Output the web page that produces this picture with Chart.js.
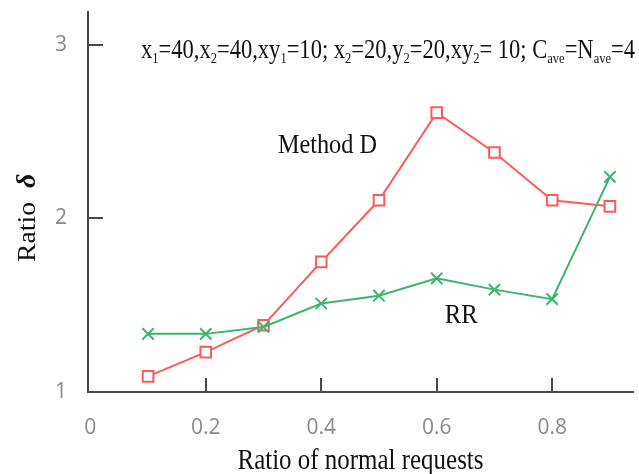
<!DOCTYPE html>
<html>
<head>
<meta charset="utf-8">
<script src="https://cdn.jsdelivr.net/npm/chart.js@4/dist/chart.umd.min.js"></script>
<style>
  html, body { margin: 0; padding: 0; background: #ffffff; }
  #wrap { width: 639px; height: 474px; }
</style>
</head>
<body>
<div id="wrap"><canvas id="chart" width="639" height="474"></canvas></div>
<script>
// Ratio of normal requests (x) and the resulting ratio δ for each method
const normalRatios = [0.1, 0.2, 0.3, 0.4, 0.5, 0.6, 0.7, 0.8, 0.9];
const methodD = [1.09, 1.23, 1.385, 1.75, 2.105, 2.61, 2.38, 2.105, 2.07];
const roundRobin = [1.335, 1.335, 1.375, 1.51, 1.555, 1.655, 1.59, 1.535, 2.24];

// Axis ticks
const xTickValues = [0, 0.2, 0.4, 0.6, 0.8];
const xTickLabels = ['0', '0.2', '0.4', '0.6', '0.8'];
const yTickValues = [1, 2, 3];
const yTickLabels = ['1', '2', '3'];

// Text
const xTitle = 'Ratio of normal requests';
const yTitle = 'Ratio';
const yTitleSymbol = 'δ';
const methodDLabel = 'Method D';
const rrLabel = 'RR';
// experiment settings line: [text, isSubscript]
const settingsLine = [
  ['x', false], ['1', true], ['=40,x', false], ['2', true], ['=40,xy', false], ['1', true],
  ['=10; x', false], ['2', true], ['=20,y', false], ['2', true], ['=20,xy', false], ['2', true],
  ['= 10; C', false], ['ave', true], ['=N', false], ['ave', true], ['=4', false]
];

const AXIS = '#484848';
const RED = '#ff5a5a';
const GREEN = '#3cb46e';
const SERIF = '"Liberation Serif", "DejaVu Serif", serif';

const toPoints = (xs, ys) => xs.map((x, i) => ({ x: x, y: ys[i] }));

// Draw a run of text squeezed horizontally to a given width
function drawFitted(ctx, parts, x, y, width) {
  let natural = 0;
  parts.forEach(p => { ctx.font = p.font; natural += ctx.measureText(p.text).width; });
  const sx = width / natural;
  ctx.save();
  ctx.translate(x, y);
  ctx.scale(sx, 1);
  let cx = 0;
  parts.forEach(p => {
    ctx.font = p.font;
    ctx.fillText(p.text, cx, p.dy || 0);
    cx += ctx.measureText(p.text).width;
  });
  ctx.restore();
}

// Inward-facing tick marks on both axes
const innerTicks = {
  id: 'innerTicks',
  beforeDatasetsDraw(chart) {
    const { ctx, chartArea, scales: { x, y } } = chart;
    ctx.save();
    ctx.strokeStyle = AXIS;
    ctx.lineWidth = 2;
    ctx.beginPath();
    x.ticks.forEach(t => {
      if (t.value === 0) return;
      const px = Math.round(x.getPixelForValue(t.value));
      ctx.moveTo(px, chartArea.bottom);
      ctx.lineTo(px, chartArea.bottom - 14);
    });
    y.ticks.forEach(t => {
      if (t.value === y.min) return;
      const py = Math.round(y.getPixelForValue(t.value));
      ctx.moveTo(chartArea.left, py);
      ctx.lineTo(chartArea.left + 15, py);
    });
    ctx.stroke();
    ctx.restore();
  }
};

// Titles, series names and the settings line
const chartText = {
  id: 'chartText',
  afterDraw(chart) {
    const { ctx, chartArea, scales: { x, y } } = chart;
    ctx.save();
    ctx.fillStyle = '#111111';
    ctx.textBaseline = 'alphabetic';
    ctx.textAlign = 'left';

    // settings line across the top
    drawFitted(ctx, settingsLine.map(([t, sub]) => ({
      text: t,
      font: sub ? '15px ' + SERIF : '27px ' + SERIF,
      dy: sub ? 5 : 0
    })), 141, 58, 494);

    // series names
    drawFitted(ctx, [{ text: methodDLabel, font: '28px ' + SERIF }],
      x.getPixelForValue(0.325), y.getPixelForValue(2.378), 99);
    drawFitted(ctx, [{ text: rrLabel, font: '28px ' + SERIF }],
      x.getPixelForValue(0.614), y.getPixelForValue(1.398), 33);

    // x axis title
    const xw = 246;
    drawFitted(ctx, [{ text: xTitle, font: '29px ' + SERIF }],
      (chartArea.left + chartArea.right) / 2 - xw / 2, 469, xw);

    // y axis title, rotated
    ctx.save();
    ctx.translate(35, 262);
    ctx.rotate(-Math.PI / 2);
    drawFitted(ctx, [{ text: yTitle, font: '26px ' + SERIF }], 0, 0, 60);
    ctx.font = 'bold italic 28px ' + SERIF;
    ctx.fillText(yTitleSymbol, 74, 0);
    ctx.restore();

    ctx.restore();
  }
};

// keep the plot edges fixed; labels may overhang
const noEdgePadding = s => {
  s.paddingTop = 0; s.paddingBottom = 0; s.paddingLeft = 0; s.paddingRight = 0;
};

new Chart(document.getElementById('chart'), {
  type: 'line',
  data: {
    datasets: [
      {
        label: rrLabel,
        data: toPoints(normalRatios, roundRobin),
        borderColor: GREEN,
        backgroundColor: GREEN,
        borderWidth: 2,
        pointStyle: 'crossRot',
        pointRadius: 8,
        pointBorderWidth: 2,
        tension: 0
      },
      {
        label: methodDLabel,
        data: toPoints(normalRatios, methodD),
        borderColor: RED,
        backgroundColor: '#ffffff',
        borderWidth: 2,
        pointStyle: 'rect',
        pointRadius: 7.5,
        pointBorderWidth: 2,
        tension: 0
      }
    ]
  },
  options: {
    responsive: false,
    animation: false,
    devicePixelRatio: 1,
    layout: { autoPadding: false, padding: { left: 0, right: 6, top: 12, bottom: 0 } },
    plugins: { legend: { display: false }, tooltip: { enabled: false } },
    scales: {
      x: {
        type: 'linear',
        min: -0.004,
        max: 0.94,
        afterBuildTicks: s => { s.ticks = xTickValues.map(v => ({ value: v })); },
        afterFit: s => { s.height = 82; noEdgePadding(s); },
        grid: { display: false, drawTicks: false },
        border: { display: true, color: AXIS, width: 2 },
        ticks: {
          padding: 23,
          autoSkip: false,
          maxRotation: 0,
          color: '#8a8a8a',
          font: { family: '"Open Sans", sans-serif', size: 21 },
          callback: (v, i) => xTickLabels[i]
        }
      },
      y: {
        type: 'linear',
        min: 1,
        max: 3.19,
        afterBuildTicks: s => { s.ticks = yTickValues.map(v => ({ value: v })); },
        afterFit: s => { s.width = 88; noEdgePadding(s); },
        grid: { display: false, drawTicks: false },
        border: { display: true, color: AXIS, width: 2 },
        ticks: {
          padding: 21,
          autoSkip: false,
          color: '#8a8a8a',
          font: { family: '"Open Sans", sans-serif', size: 21 },
          callback: (v, i) => yTickLabels[i]
        }
      }
    }
  },
  plugins: [innerTicks, chartText]
});
</script>
</body>
</html>
